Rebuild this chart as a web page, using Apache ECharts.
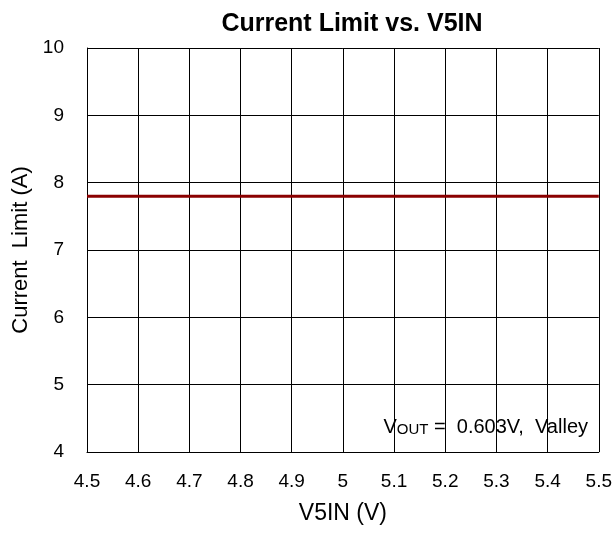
<!DOCTYPE html>
<html><head><meta charset="utf-8">
<script src="https://cdn.jsdelivr.net/npm/echarts@6/dist/echarts.min.js"></script>
<style>html,body{margin:0;padding:0;background:#fff}#c{width:615px;height:533px}</style>
</head><body><div id="c"></div>
<script>
const xValues = [4.5, 4.6, 4.7, 4.8, 4.9, 5.0, 5.1, 5.2, 5.3, 5.4, 5.5];
const currentLimit = [7.8, 7.8, 7.8, 7.8, 7.8, 7.8, 7.8, 7.8, 7.8, 7.8, 7.8];
const xTickLabels = ['4.5','4.6','4.7','4.8','4.9','5','5.1','5.2','5.3','5.4','5.5'];
const yTickLabels = ['4','5','6','7','8','9','10'];

const chart = echarts.init(document.getElementById('c'), null, {renderer: 'canvas'});
const font = 'Liberation Sans, Arial, sans-serif';
chart.setOption({
  animation: false,
  backgroundColor: '#fff',
  title: {
    text: 'Current Limit vs. V5IN', left: 347, top: 7, textAlign: 'center',
    textStyle: {fontFamily: font, fontSize: 25, fontWeight: 'bold', color: '#000'}
  },
  grid: {left: 87, right: 14, top: 48, bottom: 81},
  xAxis: {
    type: 'value', min: 4.5, max: 5.5, interval: 0.1,
    name: 'V5IN (V)', nameLocation: 'middle', nameGap: 50,
    nameTextStyle: {fontFamily: font, fontSize: 23, color: '#000'},
    axisLine: {show: true, lineStyle: {color: '#000', width: 1}},
    axisTick: {show: true, inside: true, length: 5, lineStyle: {color: '#000'}},
    splitLine: {show: true, lineStyle: {color: '#000', width: 1}},
    axisLabel: {fontFamily: font, fontSize: 19, color: '#000', margin: 20,
      formatter: v => { const i = Math.round((v - 4.5) * 10); return xTickLabels[i] ?? ''; }}
  },
  yAxis: {
    type: 'value', min: 4, max: 10, interval: 1,
    name: 'Current  Limit (A)', nameLocation: 'middle', nameGap: 49,
    nameTextStyle: {fontFamily: font, fontSize: 22, color: '#000'},
    axisLine: {show: true, lineStyle: {color: '#000', width: 1}},
    axisTick: {show: true, inside: true, length: 5, lineStyle: {color: '#000'}},
    splitLine: {show: true, lineStyle: {color: '#000', width: 1}},
    axisLabel: {fontFamily: font, fontSize: 19, color: '#000', margin: 23,
      formatter: v => yTickLabels[Math.round(v - 4)] ?? ''}
  },
  series: [{
    type: 'line', data: xValues.map((x, i) => [x, currentLimit[i]]),
    showSymbol: false, lineStyle: {color: '#8b0000', width: 3}, z: 5
  }],
  graphic: [{
    type: 'text', right: 27, top: 417,
    style: {
      text: '{v|V}{s|OUT}{v| =  0.603V,  Valley}',
      rich: {
        v: {fontFamily: font, fontSize: 20, fill: '#000'},
        s: {fontFamily: font, fontSize: 15, fill: '#000', verticalAlign: 'bottom', padding: [4,0,0,0]}
      }
    }
  }]
});
</script></body></html>
